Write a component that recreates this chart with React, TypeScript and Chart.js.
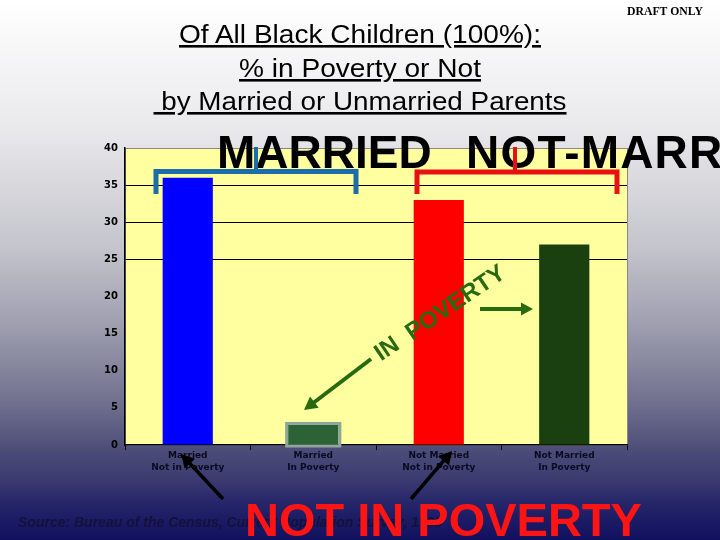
import React, { useEffect, useRef } from 'react';
import { Chart, registerables } from 'chart.js';

Chart.register(...registerables);

// ---- data ----
const categories: string[][] = [
  ['Married', 'Not in Poverty'],
  ['Married', 'In Poverty'],
  ['Not Married', 'Not in Poverty'],
  ['Not Married', 'In Poverty'],
];
const percentValues: number[] = [36, 2.7, 33, 27];
const barColors: string[] = ['#0000ff', '#2b6236', '#ff0000', '#1b400f'];
const yMin = 0;
const yMax = 40;
const yStep = 5;
const gridValues: number[] = [25, 30, 35];
const titleLines: string[] = [
  'Of All Black Children (100%):',
  '% in Poverty or Not',
  ' by Married or Unmarried Parents',
];
const draftLabel = 'DRAFT ONLY';
const marriedLabel = 'MARRIED';
const notMarriedLabel = 'NOT-MARRIED';
const inPovertyLabel = 'IN  POVERTY';
const notInPovertyLabel = 'NOT IN POVERTY';
const sourceLabel = 'Source: Bureau of the Census, Current Population Survey, 1998';

const W = 720;
const H = 540;
const GREEN = '#276a10';

const plotBgPlugin = {
  id: 'plotBg',
  beforeDraw(chart: any) {
    const { ctx, chartArea: a } = chart;
    ctx.save();
    ctx.fillStyle = '#ffffa0';
    ctx.fillRect(a.left, a.top, a.right - a.left, a.bottom - a.top);
    ctx.strokeStyle = '#8a8a8a';
    ctx.lineWidth = 1;
    ctx.strokeRect(a.left + 0.5, a.top + 0.5, a.right - a.left, a.bottom - a.top);
    ctx.restore();
  },
  afterDatasetsDraw(chart: any) {
    const meta = chart.getDatasetMeta(0);
    const el = meta.data[1];
    if (!el) return;
    const { x, y, base, width } = el.getProps(['x', 'y', 'base', 'width'], true);
    const ctx = chart.ctx;
    ctx.save();
    ctx.strokeStyle = '#8ea59a';
    ctx.lineWidth = 3;
    ctx.strokeRect(x - width / 2 - 1.5, y - 1.5, width + 3, base - y + 3);
    ctx.restore();
  },
};

function Arrow({ x1, y1, x2, y2, color, w, head }: any) {
  const dx = x2 - x1;
  const dy = y2 - y1;
  const len = Math.sqrt(dx * dx + dy * dy);
  const ux = dx / len;
  const uy = dy / len;
  const bx = x2 - ux * head;
  const by = y2 - uy * head;
  const px = -uy * head * 0.55;
  const py = ux * head * 0.55;
  return (
    <g>
      <line x1={x1} y1={y1} x2={bx + ux} y2={by + uy} stroke={color} strokeWidth={w} />
      <polygon points={`${x2},${y2} ${bx + px},${by + py} ${bx - px},${by - py}`} fill={color} />
    </g>
  );
}

export default function App() {
  const canvasRef = useRef<HTMLCanvasElement | null>(null);

  useEffect(() => {
    const canvas = canvasRef.current;
    if (!canvas) return;
    const chart = new Chart(canvas, {
      type: 'bar',
      data: {
        labels: categories,
        datasets: [
          {
            data: percentValues,
            backgroundColor: barColors,
            borderWidth: 0,
            categoryPercentage: 0.8,
            barPercentage: 0.5,
          },
        ],
      },
      options: {
        animation: false,
        responsive: false,
        devicePixelRatio: 1,
        layout: { padding: { top: 148, right: 93, bottom: 0, left: 85 } },
        plugins: { legend: { display: false }, tooltip: { enabled: false }, title: { display: false } },
        scales: {
          x: {
            afterFit: (s: any) => {
              s.height = 95;
            },
            grid: {
              display: true,
              drawOnChartArea: false,
              drawTicks: true,
              tickLength: 5,
              color: '#000',
            },
            border: { display: true, color: '#000', width: 1.5 },
            ticks: {
              color: '#0a0a20',
              padding: 0,
              maxRotation: 0,
              autoSkip: false,
              font: { family: 'DejaVu Sans', size: 9, weight: 'bold', lineHeight: 1.3 },
            },
          },
          y: {
            min: yMin,
            max: yMax,
            afterFit: (s: any) => {
              s.width = 40;
            },
            grid: {
              drawTicks: false,
              lineWidth: 1,
              color: (c: any) => (c.tick && gridValues.includes(c.tick.value) ? '#000' : 'rgba(0,0,0,0)'),
            },
            border: { display: true, color: '#000', width: 1.5 },
            ticks: {
              stepSize: yStep,
              color: '#000',
              padding: 7,
              font: { family: 'DejaVu Sans', size: 10, weight: 'bold' },
            },
          },
        },
      },
      plugins: [plotBgPlugin],
    } as any);
    return () => chart.destroy();
  }, []);

  const sans = 'Liberation Sans, Arial, sans-serif';

  return (
    <div
      style={{
        position: 'fixed',
        left: 0,
        top: 0,
        width: W,
        height: H,
        overflow: 'hidden',
        background:
          'linear-gradient(to bottom, #ffffff 0%, #e9e9ec 24%, #c4c4cc 46%, #9c9cae 61%, #72728f 74%, #4a4a78 84%, #3a3a70 89%, #26266a 93%, #10105f 100%)',
      }}
    >
      <canvas ref={canvasRef} width={W} height={H} style={{ position: 'absolute', left: 0, top: 0, width: W, height: H }} />
      <svg width={W} height={H} style={{ position: 'absolute', left: 0, top: 0, pointerEvents: 'none' }}>
        {/* title */}
        <text x={360} y={43} textAnchor="middle" fontFamily={sans} fontSize={26} textDecoration="underline" textLength={362} lengthAdjust="spacingAndGlyphs" fill="#000">
          {titleLines[0]}
        </text>
        <text x={360} y={77} textAnchor="middle" fontFamily={sans} fontSize={26} textDecoration="underline" textLength={242} lengthAdjust="spacingAndGlyphs" fill="#000">
          {titleLines[1]}
        </text>
        <text x={360} y={110} textAnchor="middle" fontFamily={sans} fontSize={26} textDecoration="underline" textLength={413} lengthAdjust="spacingAndGlyphs" fill="#000" style={{ whiteSpace: 'pre' }}>
          {titleLines[2]}
        </text>
        <text x={627} y={15} fontFamily="Liberation Serif, Times New Roman, serif" fontWeight="bold" fontSize={11.5} textLength={76} lengthAdjust="spacingAndGlyphs" fill="#000">
          {draftLabel}
        </text>

        {/* big group labels */}
        <text x={217} y={168} fontFamily={sans} fontWeight="bold" fontSize={46} fill="#000">
          {marriedLabel}
        </text>
        <text x={466} y={168} fontFamily={sans} fontWeight="bold" fontSize={46} fill="#000" style={{ letterSpacing: '1.2px' }}>
          {notMarriedLabel}
        </text>

        {/* brackets */}
        <path d="M156,194 V171.5 H356 V194" fill="none" stroke="#1b6ea8" strokeWidth={5} strokeLinejoin="miter" />
        <path d="M256,147 V171" fill="none" stroke="#1b6ea8" strokeWidth={4} />
        <path d="M417,194 V172 H617 V194" fill="none" stroke="#e81010" strokeWidth={5} strokeLinejoin="miter" />
        <path d="M515,147 V172" fill="none" stroke="#e81010" strokeWidth={4} />

        {/* in poverty annotation */}
        <text
          transform="translate(444,319) rotate(-34)"
          textAnchor="middle"
          fontFamily={sans}
          fontWeight="bold"
          fontSize={24}
          fill={GREEN}
          style={{ whiteSpace: 'pre' }}
        >
          {inPovertyLabel}
        </text>
        <Arrow x1={371} y1={359} x2={304} y2={410} color={GREEN} w={4} head={13} />
        <Arrow x1={480} y1={309} x2={533} y2={309} color={GREEN} w={4} head={12} />

        {/* black arrows */}
        <Arrow x1={223} y1={499} x2={181} y2={454} color="#000" w={3.5} head={13} />
        <Arrow x1={411} y1={499} x2={452} y2={451} color="#000" w={3.5} head={13} />

        {/* source + not in poverty */}
        <text x={18} y={527} fontFamily={sans} fontWeight="bold" fontStyle="italic" fontSize={14} fill="#12123c">
          {sourceLabel}
        </text>
        <text x={245} y={536} fontFamily={sans} fontWeight="bold" fontSize={47} fill="#ff1414">
          {notInPovertyLabel}
        </text>
      </svg>
    </div>
  );
}
